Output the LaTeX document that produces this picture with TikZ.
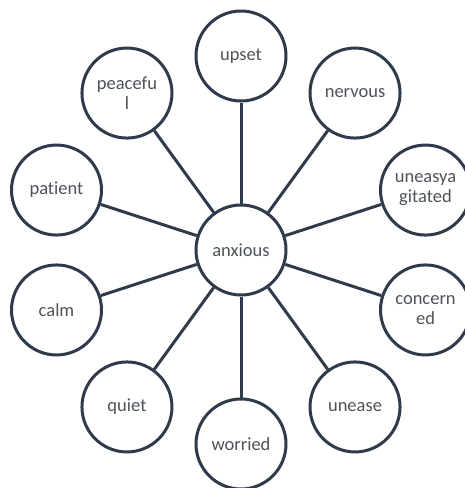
\documentclass[tikz,border=0pt]{standalone}
\usepackage{fontspec}
\setmainfont{Carlito}[Ligatures=NoCommon]
\usetikzlibrary{calc}
\definecolor{ringline}{HTML}{2F3A4A}
\definecolor{wordtext}{HTML}{4E535A}
\begin{document}
\begin{tikzpicture}[x=1pt,y=1pt,
  bubble/.style={circle, draw=ringline, line width=3pt, fill=white,
    minimum size=90pt, inner sep=0pt, align=center,
    font=\fontsize{18.5}{20}\selectfont, text=wordtext},
  spoke/.style={draw=ringline, line width=3pt}]
\useasboundingbox (0,0) rectangle (465,-488);
\coordinate (c) at (241,-250);
\node[bubble] (anxious) at (c) {anxious};
\node[bubble] (upset)    at ($(c)+(90:194)$)  {upset};
\node[bubble] (nervous)  at ($(c)+(54:194)$)  {nervous};
\node[bubble] (agitated) at ($(c)+(18:194)$)  {uneasya\\gitated};
\node[bubble] (concerned) at ($(c)+(-18:194)$) {concern\\ed};
\node[bubble] (unease)   at ($(c)+(-54:194)$) {unease};
\node[bubble] (worried)  at ($(c)+(-90:194)$) {worried};
\node[bubble] (quiet)    at ($(c)+(-126:194)$) {quiet};
\node[bubble] (calm)     at ($(c)+(-162:194)$) {calm};
\node[bubble] (patient)  at ($(c)+(162:194)$) {patient};
\node[bubble] (peaceful) at ($(c)+(126:194)$) {peacefu\\l};
\foreach \n in {upset,nervous,agitated,concerned,unease,worried,quiet,calm,patient,peaceful}
  \draw[spoke] (anxious) -- (\n);
\end{tikzpicture}
\end{document}
